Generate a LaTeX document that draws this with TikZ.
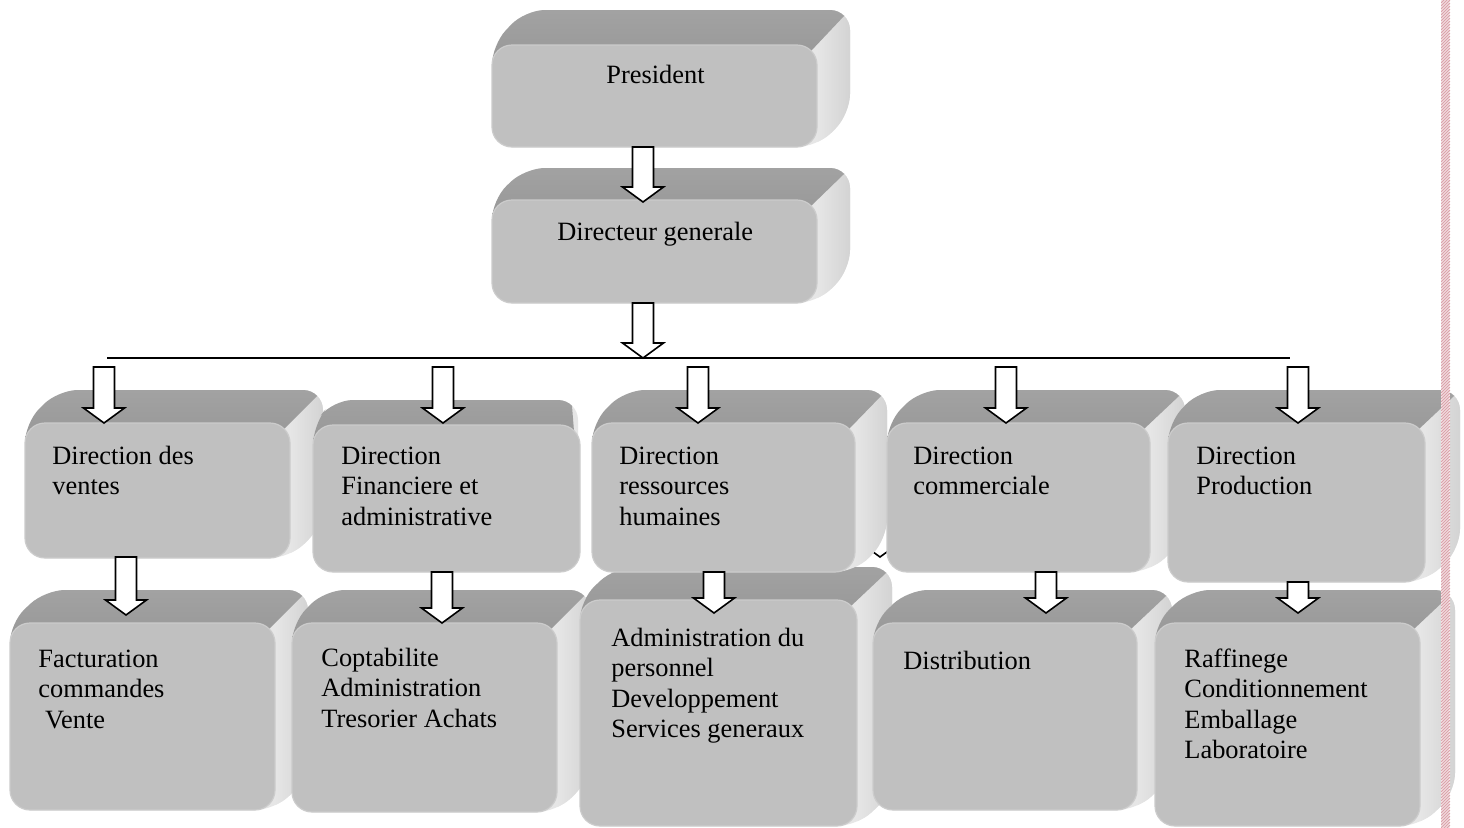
\documentclass[tikz,border=0pt]{standalone}
\usepackage{fontspec}
\setmainfont{Liberation Serif}
\usetikzlibrary{calc}
\definecolor{frontc}{HTML}{C0C0C0}
\definecolor{frontb}{HTML}{CCCCCC}
\definecolor{topB}{HTML}{A6A6A6}
\definecolor{topF}{HTML}{969696}
\definecolor{sideL}{HTML}{E6E6E6}
\definecolor{sideR}{HTML}{D2D2D2}
\definecolor{hatchc}{HTML}{DBA3AB}

\tikzset{
  frontface/.style={rounded corners=10pt, fill=frontc, draw=frontb, line width=0.6pt, inner sep=0pt, outer sep=0pt},
  boxlabel/.style={anchor=base west, inner sep=0pt, font=\fontsize{13.2}{15.3}\selectfont},
  blockarrow/.style={draw=black, fill=white, line width=0.8pt, miter limit=10},
  rootline/.style={draw=black, line width=1pt},
}

% #1 name, #2 x1, #3 y1, #4 x2, #5 y2 (front face), #6 bx1, #7 by1, #8 bx2, #9 by2 (back face)
\newcommand\cubebox[9]{%
  \fill[sideL, rounded corners=10pt] (#2,#5) -- (#2,#3) -- (#6,#7) -- (#8,#7) -- (#8,#9) -- (#4,#5) -- cycle;
  \begin{scope}
    \clip[rounded corners=10pt] (#2,#5) -- (#2,#3) -- (#6,#7) -- (#8,#7) -- (#8,#9) -- (#4,#5) -- cycle;
    \shade[left color=sideL, right color=sideR] (#4,{#7-5}) rectangle ({#8+2},{#5+5});
    \shade[top color=topB, bottom color=topF]
      ({#2-10},{#3+6-0.6*(#7-#3)}) -- ({#2-10},{#7-20}) --
      ({#4-6+1.4*(#8-#4)},{#7-20}) -- ({#4-6+1.4*(#8-#4)},{#3+6+1.4*(#7-#3)}) --
      ({#4-6-0.6*(#8-#4)},{#3+6-0.6*(#7-#3)}) -- cycle;
  \end{scope}
  \pgfmathsetmacro\cbw{(#4-#2)*0.5}%
  \pgfmathsetmacro\cbh{(#5-#3)*0.5}%
  \node[frontface, minimum width=\cbw pt, minimum height=\cbh pt, anchor=north west] (#1) at (#2,#3) {};
}

\newcommand\barrow[2]{%
  \draw[blockarrow] let \p1=(#1), \p2=(#2) in
    (\x1-5.25pt,\y1) -- (\x1-5.25pt,\y2+7.5pt) -- (\x1-10.25pt,\y2+7.5pt) -- (\x1,\y2) --
    (\x1+10.25pt,\y2+7.5pt) -- (\x1+5.25pt,\y2+7.5pt) -- (\x1+5.25pt,\y1) -- cycle;
}

\begin{document}
\begin{tikzpicture}[x=0.5pt, y=-0.5pt]
\useasboundingbox (0,0) rectangle (1464,827);
\fill[white] (0,0) rectangle (1464,827);

% second row
\cubebox{fact}{10}{623}{275}{810}{45}{590}{308}{777}
\cubebox{copt}{292}{623}{557}{812}{325}{590}{590}{779}
\cubebox{admin}{580}{600}{857}{826}{615}{567}{892}{793}
\cubebox{dist}{873}{623}{1137}{810}{908}{590}{1172}{777}
\cubebox{raff}{1155}{623}{1420}{826}{1190}{590}{1455}{793}

% arrow partly hidden behind the boxes
\coordinate (hxs) at (880,480);
\coordinate (hxe) at (880,557);
\barrow{hxs}{hxe}

% first row
\cubebox{ventes}{25}{423}{290}{558}{58}{390}{323}{525}
\cubebox{fin}{313}{425}{580}{572}{333}{400}{578}{440}
\cubebox{rh}{592}{423}{855}{572}{625}{390}{887}{539}
\cubebox{com}{887}{423}{1150}{572}{920}{390}{1185}{539}
\cubebox{prod}{1168}{423}{1425}{582}{1200}{390}{1460}{549}

% top
\cubebox{pres}{492}{45}{817}{147}{525}{10}{850}{114}
\cubebox{dg}{492}{200}{817}{303}{525}{168}{850}{270}

% labels
\node[boxlabel] (lpres) at (606,83) {President};
\node[boxlabel] (ldg) at (557,240) {Directeur generale};
\node[boxlabel] (lventes) at (52,464) {\begin{tabular}[t]{@{}l@{}}Direction des\\ventes\end{tabular}};
\node[boxlabel] (lfin) at (341,464) {\begin{tabular}[t]{@{}l@{}}Direction\\Financiere et\\administrative\end{tabular}};
\node[boxlabel] (lrh) at (619,464) {\begin{tabular}[t]{@{}l@{}}Direction\\ressources\\humaines\end{tabular}};
\node[boxlabel] (lcom) at (913,464) {\begin{tabular}[t]{@{}l@{}}Direction\\commerciale\end{tabular}};
\node[boxlabel] (lprod) at (1196,464) {\begin{tabular}[t]{@{}l@{}}Direction\\Production\end{tabular}};
\node[boxlabel] (lfact) at (38,667) {\begin{tabular}[t]{@{}l@{}}Facturation\\commandes\\\hspace*{0.25em}Vente\end{tabular}};
\node[boxlabel] (lcopt) at (321,666) {\begin{tabular}[t]{@{}l@{}}Coptabilite\\Administration\\Tresorier Achats\end{tabular}};
\node[boxlabel] (ladmin) at (611,646) {\begin{tabular}[t]{@{}l@{}}Administration du\\personnel\\Developpement\\Services generaux\end{tabular}};
\node[boxlabel] (ldist) at (903,669) {Distribution};
\node[boxlabel] (lraff) at (1184,667) {\begin{tabular}[t]{@{}l@{}}Raffinege\\Conditionnement\\Emballage\\Laboratoire\end{tabular}};

% arrows
\coordinate (a1s) at (643,147);  \coordinate (a1e) at (643,202);
\coordinate (a2s) at (643,303);  \coordinate (a2e) at (643,358);
\barrow{a1s}{a1e}
\barrow{a2s}{a2e}

\coordinate (lineL) at (107,358);
\coordinate (lineR) at (1290,358);
\draw[rootline] (lineL) -- (lineR);

\coordinate (b1s) at (104,367);  \coordinate (b1e) at (104,423);
\coordinate (b2s) at (443,367);  \coordinate (b2e) at (443,423);
\coordinate (b3s) at (698,367);  \coordinate (b3e) at (698,423);
\coordinate (b4s) at (1006,367); \coordinate (b4e) at (1006,423);
\coordinate (b5s) at (1298,367); \coordinate (b5e) at (1298,423);
\barrow{b1s}{b1e}
\barrow{b2s}{b2e}
\barrow{b3s}{b3e}
\barrow{b4s}{b4e}
\barrow{b5s}{b5e}

\coordinate (c1s) at (126,557);  \coordinate (c1e) at (126,615);
\coordinate (c2s) at (442,572);  \coordinate (c2e) at (442,623);
\coordinate (c3s) at (714,572);  \coordinate (c3e) at (714,613);
\coordinate (c4s) at (1046,572); \coordinate (c4e) at (1046,613);
\coordinate (c5s) at (1298,582); \coordinate (c5e) at (1298,613);
\barrow{c1s}{c1e}
\barrow{c2s}{c2e}
\barrow{c3s}{c3e}
\barrow{c4s}{c4e}
\barrow{c5s}{c5e}

% page border strip
\begin{scope}
  \fill[white] (1441,-1) rectangle (1450,828);
  \clip (1441,0) rectangle (1450,827);
  \foreach \k in {0,3,...,840} \draw[hatchc, line width=0.55pt] (1441,\k) -- (1450,\k-9);
\end{scope}
\end{tikzpicture}
\end{document}
